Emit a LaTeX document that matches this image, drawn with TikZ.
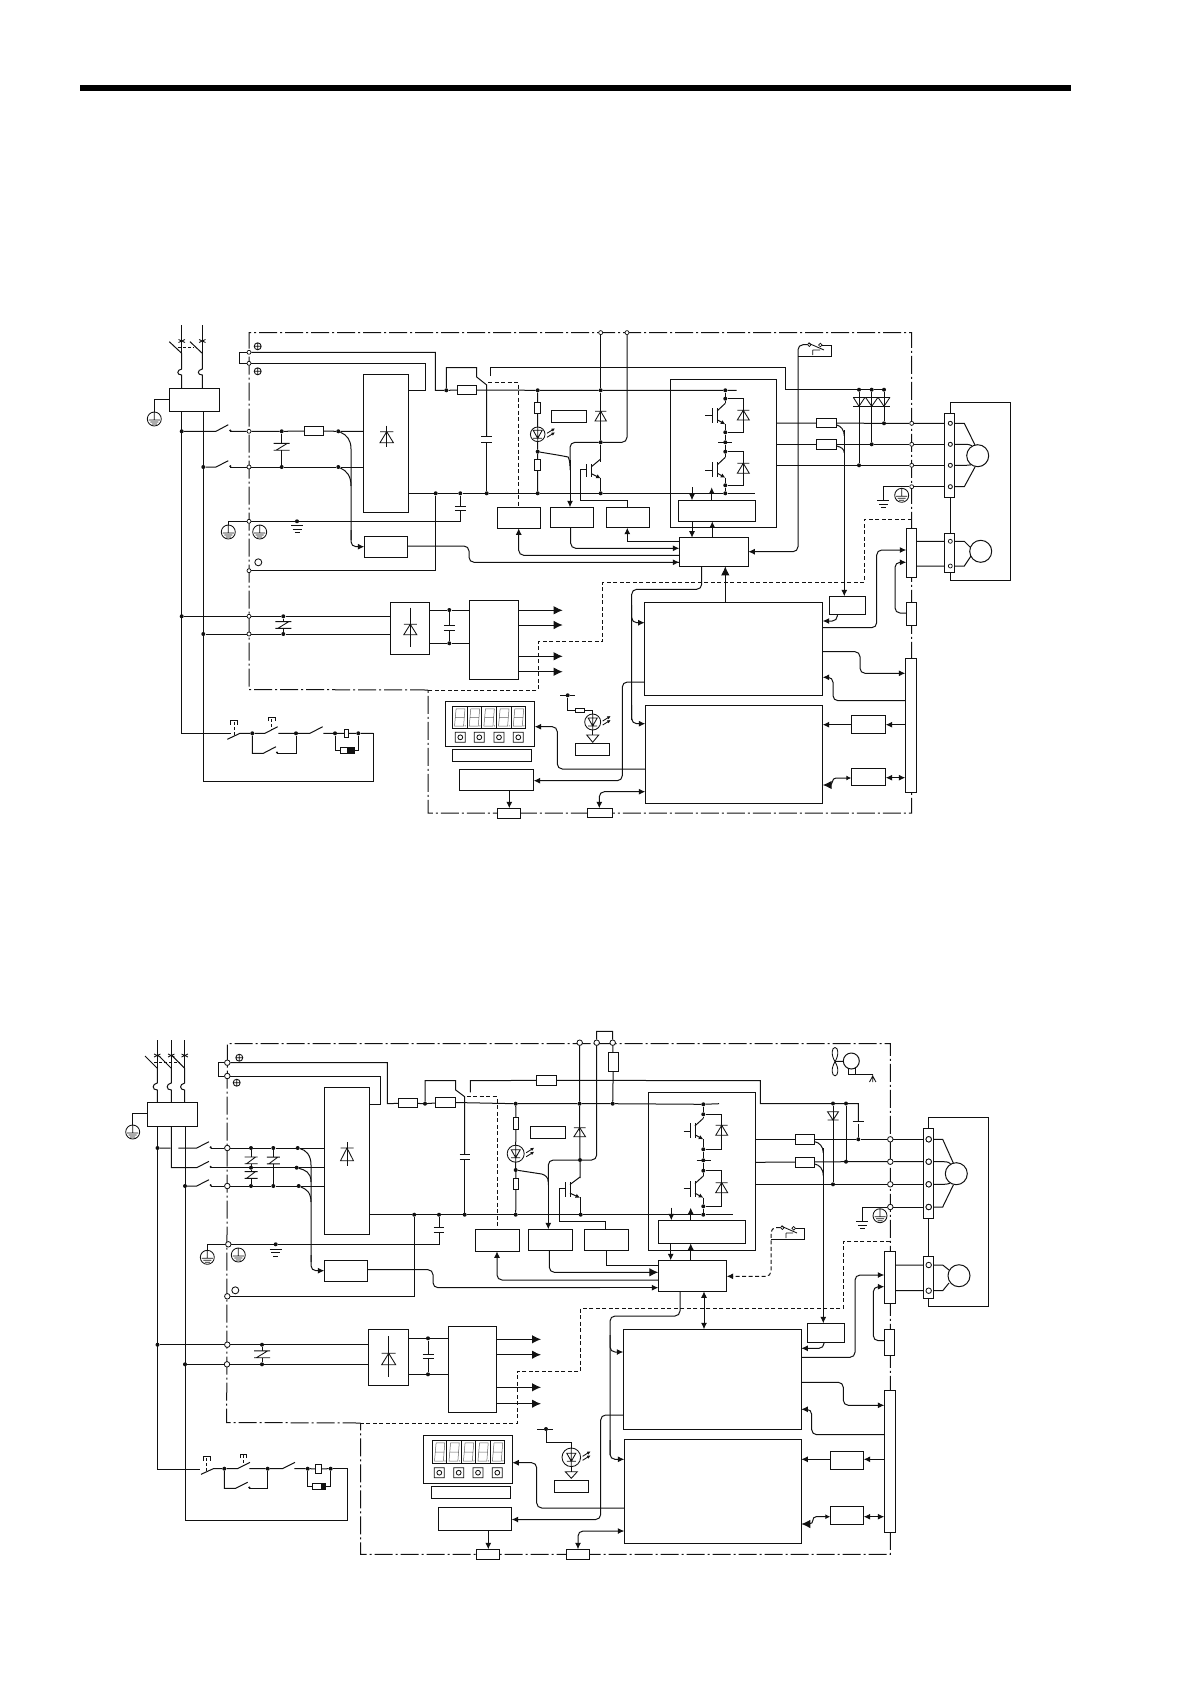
\documentclass[tikz,border=0pt]{standalone}
\usetikzlibrary{arrows.meta}
\definecolor{ink}{HTML}{111111}
\pgfdeclarelayer{fg}
\pgfsetlayers{main,fg}
\tikzset{
  w/.style={draw=ink,line width=1pt},
  rc/.style={w,rounded corners=5pt},
  sym/.style={draw=ink,line width=.85pt},
  ar/.style={-{Latex[length=6.5pt,width=6pt]}},
  arb/.style={-{Latex[length=9pt,width=8.5pt]}},
  arr/.style={{Latex[length=6.5pt,width=6pt]}-{Latex[length=6.5pt,width=6pt]}},
  box/.style={draw=ink,line width=1pt,fill=white,inner sep=0pt,outer sep=0pt,rectangle},
  frm/.style={draw=ink,line width=1pt,inner sep=0pt,outer sep=0pt,rectangle},
  jn/.style={circle,fill=ink,inner sep=0pt,minimum size=4pt},
  tm/.style={circle,draw=ink,fill=white,line width=.7pt,inner sep=0pt,minimum size=4pt},
  tmb/.style={circle,draw=ink,fill=white,line width=.8pt,inner sep=0pt,minimum size=5.5pt},
  mot/.style={circle,draw=ink,fill=white,line width=1pt,inner sep=0pt},
  dd/.style={draw=ink,line width=1pt,dash pattern=on 18pt off 3pt on 2pt off 3pt},
  dsh/.style={draw=ink,line width=1pt,dash pattern=on 4pt off 2.5pt},
}
\def\myBox#1#2#3#4#5{\pgfmathsetmacro\wA{#4-#2}\pgfmathsetmacro\hA{#5-#3}\node[box,anchor=north west,minimum width=\wA pt,minimum height=\hA pt] (#1) at (#2,#3) {};}
\def\myFrm#1#2#3#4#5{\pgfmathsetmacro\wA{#4-#2}\pgfmathsetmacro\hA{#5-#3}\node[frm,anchor=north west,minimum width=\wA pt,minimum height=\hA pt] (#1) at (#2,#3) {};}
\def\myJ#1#2#3{\node[jn] (#1) at (#2,#3) {};}
\def\myT#1#2#3{\node[tm] (#1) at (#2,#3) {};}
\def\myTb#1#2#3{\node[tmb] (#1) at (#2,#3) {};}
\def\myGnd#1#2{\draw[sym] ({#1-6},#2)--({#1+6},#2) ({#1-4.5},{#2+3.5})--({#1+4.5},{#2+3.5}) ({#1-2.5},{#2+7})--({#1+2.5},{#2+7});}
\def\myPE#1#2{\draw[sym] (#1,#2) circle (7pt) (#1,{#2-7})--(#1,{#2+1}) ({#1-5.5},{#2+1})--({#1+5.5},{#2+1}) ({#1-4},{#2+3})--({#1+4},{#2+3}) ({#1-2.5},{#2+5})--({#1+2.5},{#2+5});}
\def\myPlus#1#2{\draw[sym] (#1,#2) circle (3.5pt) ({#1-3.5},#2)--({#1+3.5},#2) (#1,{#2-3.5})--(#1,{#2+3.5});}
\def\myZ#1#2#3{\draw[sym] ({#1-#3},{#2-3.4})--({#1+#3},{#2-3.4}) ({#1-#3},{#2+3.4})--({#1+#3},{#2+3.4}) ({#1+#3*.7},{#2-3.4})--({#1-#3*.7},{#2+3.4});}
\def\myDU#1#2#3#4{\draw[sym] ({#1-#4},#2)--({#1+#4},#2) (#1,#2)--({#1-#4},#3)--({#1+#4},#3)--cycle;}
\def\myCap#1#2#3#4{\draw[w] ({#1-#4},#2)--({#1+#4},#2) ({#1-#4},#3)--({#1+#4},#3);}
\def\myQ#1#2#3#4{\draw[w] (#2,#3)--(#2,#4) ({#2-5},#3)--({#2-5},#4);
 \draw[w] (#1,{#3-5})--(#2,{#3+2.5});
 \draw[w,-{Latex[length=4.5pt,width=4.5pt]}] (#2,{#4-3.5})--(#1,{#4+1});}
\def\myLED#1#2#3{\draw[sym] (#1,#2) circle (#3pt);
 \draw[sym] ({#1-4.5},{#2-4})--({#1+4.5},{#2-4})--(#1,{#2+4})--cycle ({#1-4.5},{#2+4})--({#1+4.5},{#2+4}) (#1,{#2-#3})--(#1,{#2+#3});
 \draw[sym,-{Latex[length=3.5pt,width=3.5pt]}] ({#1+#3+2},{#2-1})--({#1+#3+10},{#2-6});
 \draw[sym,-{Latex[length=3.5pt,width=3.5pt]}] ({#1+#3+2},{#2+3})--({#1+#3+10},{#2-2});}
\def\myDig#1#2#3#4{\foreach \i in {0,...,4}{
  \pgfmathsetmacro\xa{#1+\i*(#3-#1)/5}\pgfmathsetmacro\dx{(#3-#1)/5}
  \draw[sym] (\xa,#2) rectangle ({\xa+\dx},#4);
  \draw[draw=ink!65,line width=.5pt] ({\xa+2.2},{#4-2.5})--({\xa+3.8},{#2+2.5})--({\xa+\dx-2},{#2+2.5})--({\xa+\dx-3.4},{#4-2.5})--cycle ({\xa+3},{(#2+#4)/2})--({\xa+\dx-2.7},{(#2+#4)/2});
  \fill[ink!65] ({\xa+\dx-1.8},{#4-2.8}) circle (.6pt);}}
\def\myBtn#1#2{\draw[sym] ({#1-5},{#2-5}) rectangle ({#1+5},{#2+5}) (#1,#2) circle (2.4pt);}
\begin{document}
\begin{tikzpicture}[x=1pt,y=-1pt]
\useasboundingbox (0,0) rectangle (1190,1684);
\fill[black] (80,85) rectangle (1071,91);

%%%%%%%%%%%%%%%%%%%%%%%%%%%%%% upper diagram
\draw[dd] (428,690)--(249,689.5)--(249,332.5)--(911.7,332.5)--(911.7,813)--(428,813)--cycle;
\draw[dsh] (911.7,519.3) -| (864.3,582.3) -| (602.7,641.7) -| (538.3,690) -- (428,690);

\begin{pgfonlayer}{fg}
\myBox{aflt}{169.3}{388.3}{219.3}{411.3}
\myBox{afuse}{304.3}{426.7}{323.7}{435.3}
\myBox{arect}{363.3}{374.3}{408.3}{512.3}
\myBox{adet}{364.3}{536.3}{407.7}{557.7}
\myBox{arch}{457.3}{385.3}{476.7}{394.7}
\myBox{ar1}{534.3}{402.7}{540.7}{413.7}
\myBox{ar2}{534.3}{459.3}{540.7}{470.7}
\myBox{alab}{551.7}{410.3}{586.3}{422.3}
\myBox{abx1}{497.3}{507.3}{540.3}{528.3}
\myBox{abx2}{550.3}{507.3}{593.3}{527.7}
\myBox{abx3}{606.3}{507.3}{649.3}{527.7}
\myFrm{ainv}{670.7}{379.7}{776.3}{527.3}
\myBox{adrv}{678.3}{500.3}{755.7}{521.3}
\myBox{actl}{679.3}{537.7}{748.3}{566.3}
\myBox{act1}{816.3}{418.3}{836.7}{427.7}
\myBox{act2}{816.3}{439.3}{836.7}{449.3}
\myBox{acn2}{906.3}{528.3}{916.7}{577.3}
\myBox{acn3}{906.3}{602.3}{916.7}{625.3}
\myBox{acn1}{905.3}{658.3}{916.7}{792.3}
\myBox{adyn}{829.3}{596.3}{865.3}{614.3}
\myBox{acpu}{644.7}{602.3}{822.7}{695.3}
\myBox{acpb}{645.3}{705.3}{822.7}{803.3}
\myBox{ai1}{851.3}{715.3}{885.7}{733.7}
\myBox{ai2}{851.3}{768.3}{885.7}{785.7}
\myBox{adisp}{445.3}{701.3}{534.7}{746.3}
\myBox{albl}{452.3}{749.3}{531.7}{761.3}
\myBox{amem}{459.3}{769.3}{533.7}{790.7}
\myBox{ap1}{497.3}{808.3}{520.7}{818.7}
\myBox{ap2}{587.3}{808.3}{612.7}{817.7}
\myBox{ares}{575.3}{708.3}{584.7}{712.3}
\myBox{albt}{575.3}{743.3}{609.7}{755.7}
\myBox{arec}{390.3}{602.3}{429.3}{654.3}
\myBox{apsu}{469.3}{600.3}{518.3}{679.7}
\myBox{amc}{344.3}{729.3}{348.3}{737.7}
\myBox{asur}{340.3}{747}{354}{753.7}
\myFrm{amfr}{950.3}{402.3}{1010.3}{580.3}
\myBox{atb1}{944.3}{413.3}{954.7}{497.3}
\myBox{atb2}{944.3}{533.3}{954.7}{572.7}
\node[mot,minimum size=22pt] (amot) at (977.7,455.7) {};
\node[mot,minimum size=22pt] (aenc) at (980.7,551.3) {};
\draw[w] (386.7,425.7)--(386.7,447.3);
\myDU{386.7}{431.7}{442.7}{6.7}
\draw[w] (410.3,607.7)--(410.3,646.7);
\myDU{410.3}{624.3}{634.7}{6.5}
\myT{aP}{249}{352.3}\myT{aQ}{249}{363.3}\myT{aL1}{249}{431.3}\myT{aL2}{249}{467}
\myT{aE}{249}{521.3}\myT{aO}{249}{570.7}\myT{aL3}{249}{616.3}\myT{aL4}{249}{634}
\myT{aC}{600.7}{332.6}\myT{aD}{627}{332.6}
\myT{aU}{911.7}{423.3}\myT{aV}{911.7}{444.3}\myT{aW}{911.7}{465.3}\myT{aG}{911.7}{486.7}
\myT{abU}{950.3}{423.3}\myT{abV}{950.3}{444.3}\myT{abW}{950.3}{465.3}\myT{abG}{950.3}{486.7}
\myT{aeA}{950.3}{541.3}\myT{aeB}{950.3}{566}
\myJ{aj1}{181.7}{431.3}\myJ{aj2}{203.3}{467}\myJ{aj3}{281.7}{431.3}\myJ{aj4}{281.7}{467}
\myJ{aj5}{338.3}{431.3}\myJ{aj6}{338.3}{467}\myJ{aj7}{446.3}{390.3}\myJ{aj8}{435.7}{493.3}
\myJ{aj9}{460.3}{493.3}\myJ{aj10}{486.7}{493.3}\myJ{aj11}{537.7}{390.3}\myJ{aj12}{537.7}{451.7}
\myJ{aj13}{537.7}{493.3}\myJ{aj14}{600.7}{390.3}\myJ{aj15}{600.7}{442.3}\myJ{aj16}{600.7}{493.3}
\myJ{aj17}{725.3}{390.3}\myJ{aj18}{725.3}{398.7}\myJ{aj19}{725.3}{432.3}\myJ{aj20}{725.3}{442.3}
\myJ{aj21}{725.3}{451.7}\myJ{aj22}{725.3}{485.3}\myJ{aj23}{725.3}{493.3}
\myJ{aj24}{859}{389.7}\myJ{aj25}{871.7}{389.7}\myJ{aj26}{884}{389.7}
\myJ{aj27}{884}{423.3}\myJ{aj28}{871.7}{444.3}\myJ{aj29}{859}{465.3}
\myJ{aj30}{297}{521.3}\myJ{aj31}{181.7}{616.3}\myJ{aj32}{203.3}{634}\myJ{aj33}{283.3}{616.3}\myJ{aj34}{283.3}{634}
\myJ{aj35}{449.3}{610}\myJ{aj36}{449.3}{643.3}
\myJ{aj37}{252.3}{733.3}\myJ{aj38}{296}{733.3}\myJ{aj39}{335}{733.3}\myJ{aj40}{358.3}{733.3}\myJ{aj41}{567.7}{695.3}
\end{pgfonlayer}

% mains and breakers
\draw[w] (181.7,325)--(181.7,353.3) (202.3,325)--(202.3,353.3);
\draw[sym] (178.5,339.5)--(185,342.5) (185,339.5)--(178.5,342.5) (199,339.5)--(205.5,342.5) (205.5,339.5)--(199,342.5);
\draw[w] (169.3,341.7)--(181.7,353.3)--(181.7,369) .. controls (176.5,370) and (176.5,375) .. (181.7,375)--(aflt.north -| 181.7,0);
\draw[w] (190,341.7)--(202.3,353.3)--(202.3,369) .. controls (197,370) and (197,375) .. (202.3,375)--(aflt.north -| 202.3,0);
\draw[w,densely dashed] (178.3,347.3)--(194,347.3);
\draw[w] (aflt.west |- 0,399.3) -| (154.3,412);
\myPE{154.3}{419}
\draw[w] (aflt.south -| 181.7,0)--(181.7,733.3)--(230.7,733.3);
\draw[w] (aflt.south -| 203.3,0)--(203.3,781.3) -| (373.3,733.3)--(aj40);
% input contactors
\draw[w] (aj1)--(216,431.3)--(228.3,424.7);
\draw[w] (aj2)--(216,467)--(228.3,460.7);
\fill[ink] (230.3,430.5) circle (1.2pt) (230.3,466.2) circle (1.2pt);
\draw[w] (230,431.3)--(aL1)--(aj3)--(afuse)--(aj5)--(arect.west |- aj5);
\draw[w] (230,467)--(aL2)--(aj4)--(aj6)--(arect.west |- aj6);
\draw[w] (aj3)--(281.7,443.3) (aj4)--(281.7,450.3);
\myZ{281.7}{446.8}{8}
% P terminals
\draw[w] (aP)--(239.3,352.3)--(239.3,363.3)--(aQ);
\draw[w] (aP) -| (435.3,390.3)--(aj7)--(arch)--(aj11)--(aj14)--(aj17)--(736.7,390.3);
\draw[w] (aQ) -| (425.7,390.3)--(arect.east |- 0,390.3);
\myPlus{257.7}{346.3}\myPlus{257.7}{371.3}
\draw[w] (aj7)--(446.3,367.7)--(476.7,367.7)--(476.7,377)--(486.7,385)--(486.7,436.7);
\draw[w] (486.7,442.3)--(aj10);
\myCap{486.7}{436.7}{442.3}{5.5}
\draw[w] (490.7,376)--(490.7,367.5) -| (785,389.7)--(aj24)--(aj25)--(aj26);
\draw[dsh] (488,382.7) -| (abx1.north -| 518.7,0);
% lower bus
\draw[w] (arect.east |- aj8)--(aj8)--(aj9)--(aj10)--(aj13)--(aj16)--(aj23)--(755,493.3);
\draw[w] (aj9)--(460.3,506);
\myCap{460.3}{506}{510.7}{5.5}
\draw[w] (460.3,510.7)--(460.3,521.3)--(aj30)--(aE)-|(228.3,525);
\myGnd{297}{525.5}\myPE{228.3}{532}\myPE{259.7}{532}
\draw[sym] (258.3,562.3) circle (3.5pt);
\draw[w] (aj8)--(435.7,570.7)--(aO);
% current detection taps
\draw[w] (aj5) .. controls (347,435) and (351,440) .. (351,449)--(351,540);
\draw[w] (aj6) .. controls (347,471) and (351,476) .. (351,486);
\draw[rc,ar] (351,530)--(351,546.7)--(adet.west |- 0,546.7);
\draw[rc] (adet.east |- 0,546)--(469,546)--(469,562.3)--(679,562.3);
\draw[w,ar] (500,562.3)--(actl.west |- 0,562.3);
\draw[rc,ar] (actl.west |- 0,555.3)--(518.7,555.3)--(abx1.south -| 518.7,0);
% charge lamp
\draw[w] (aj11)--(ar1)--(537.7,427);
\draw[w] (537.7,441.5)--(aj12)--(ar2)--(aj13);
\myLED{537.7}{434.3}{7.3}
\draw[rc] (aj12)--(563.3,456) .. controls (568,457) and (570,460) .. (570,466);
\draw[w,ar] (570,460)--(abx2.north -| 570,0);
\draw[rc] (570,470)--(570,442.3)--(aj15)--(627,442.3)--(aD);
\draw[w] (aC)--(aj14)--(aj15)--(600.7,462.3);
\myDU{600.7}{411.3}{421}{5.7}
\myQ{600.7}{591.7}{464}{477.3}
\draw[w] (600.7,478)--(aj16);
\draw[w] (586.7,469.3)--(580.7,469.3)--(580.7,500.7)--(627.7,500.7)--(abx3.north -| 627.7,0);
% inverter
\draw[w] (aj17)--(aj18)--(725.3,403);
\draw[w] (aj18)--(743.3,398.7)--(743.3,432.3)--(aj19);
\myDU{743.3}{410.3}{420}{6}
\myQ{725.3}{717.3}{408.3}{423.3}
\draw[w] (705,415.7)--(712.3,415.7);
\draw[w] (725.3,424)--(aj19)--(aj20)--(aj21)--(725.3,457);
\draw[w] (718.3,442.3)--(731.7,442.3);
\draw[w] (aj21)--(743.3,451.7)--(743.3,485.3)--(aj22);
\myDU{743.3}{463.3}{473.3}{6}
\myQ{725.3}{717.3}{462.3}{476.7}
\draw[w] (705,470)--(712.3,470);
\draw[w] (725.3,477.5)--(aj22)--(aj23);
\draw[w,ar] (692,487.3)--(adrv.north -| 692,0);
\draw[w,ar] (adrv.north -| 711.7,0)--(711.7,487.3);
\draw[w,ar] (adrv.south -| 692,0)--(actl.north -| 692,0);
\draw[w,ar] (actl.north -| 712.3,0)--(adrv.south -| 712.3,0);
\draw[w,ar] (627.3,541.7)--(abx3.south -| 627.3,0);
\draw[w] (627.3,541.7)--(actl.west |- 0,541.7);
\draw[rc,ar] (abx2.south -| 570.7,0)--(570.7,548.3)--(actl.west |- 0,548.3);
% outputs
\draw[w] (ainv.east |- act1)--(aj27)--(aU)--(abU);
\draw[w] (ainv.east |- act2)--(aj28)--(aV)--(abV);
\draw[w] (ainv.east |- aj29)--(aj29)--(aW)--(abW);
\draw[w] (aG)--(abG);
\draw[w] (aj24)--(aj29) (aj25)--(aj28) (aj26)--(aj27);
\draw[sym] (853.3,397.3)--(890,397.3);
\draw[sym] (853.3,397.3)--(859,406.3)--(865,397.3) (865.5,397.3)--(871.7,406.3)--(878,397.3) (878,397.3)--(884,406.3)--(890,397.3);
\draw[sym] (853.3,406.3)--(890,406.3);
\draw[w] (aG)-|(883.3,500);
\myGnd{883.3}{500.5}\myPE{901.7}{495.3}
% motor
\draw[w] (abU)--(964.3,423.3)--(975,445);
\draw[w] (abV)--(966,444.3) .. controls (970,444.3) and (972,446) .. (amot);
\draw[w] (abW)--(966,465.3) .. controls (970,465.3) and (972,464) .. (amot);
\draw[w] (abG)--(964.3,486.7)--(975,467);
\draw[w] (acn2.east |- aeA)--(aeA)--(964.3,541.3)--(971,548);
\draw[w] (acn2.east |- aeB)--(aeB)--(964.3,566)--(971,556);
% CT taps
\draw[w] (836.7,425) .. controls (841,426) and (844.3,430) .. (844.3,436);
\draw[w] (836.7,446) .. controls (841,447) and (844.3,449) .. (844.3,453);
\draw[w,ar] (844.3,430)--(adyn.north -| 844.3,0);
\draw[rc,ar] (adyn.south -| 837.3,0)--(837.3,621)--(acpu.east |- 0,621);
\draw[rc,ar] (acpu.east |- 0,627.7)--(876.7,627.7)--(876.7,550)--(acn2.west |- 0,550);
\draw[rc,ar] (acn3.west |- 0,613)--(895,613)--(895,562.3)--(acn2.west |- 0,562.3);
% thermal switch
\node[tm,minimum size=3.6pt] (ath1) at (809.3,344.7) {};
\node[tm,minimum size=3.6pt] (ath2) at (820.3,345) {};
\draw[w] (ath2)--(831.7,345)--(831.7,356.3)--(798,356.3);
\draw[sym] (808,343)--(824,350) (812.7,350)--(812.7,355) (812.7,350)--(820,350);
\draw[rc,ar] (ath1)--(798,344.7)--(798,551.7)--(actl.east |- 0,551.7);
% control to cpu
\draw[w,arb] (acpu.north -| 725.3,0)--(actl.south -| 725.3,0);
\draw[rc] (actl.south -| 701.7,0)--(701.7,589.3)--(631.7,589.3)--(631.7,720);
\draw[rc,ar] (631.7,605)--(631.7,622.7)--(acpu.west |- 0,622.7);
\draw[rc,ar] (631.7,705)--(631.7,723.7)--(acpb.west |- 0,723.7);
\draw[rc,ar] (acpu.west |- 0,682)--(622.3,682)--(622.3,780.7)--(amem.east |- 0,780.7);
\draw[rc,ar] (acpb.west |- 0,769)--(557.3,769)--(557.3,726.7)--(adisp.east |- 0,726.7);
\draw[w,ar] (amem.south -| 509.3,0)--(ap1.north -| 509.3,0);
\draw[rc,arr] (ap2.north -| 599.3,0)--(599.3,791.7)--(acpb.west |- 0,791.7);
% right side of cpu
\draw[rc,ar] (acpu.east |- 0,651.7)--(860,651.7)--(860,673.3)--(acn1.west |- 0,673.3);
\draw[rc,ar] (acn1.west |- 0,700.7)--(833,700.7)--(833,677.3)--(acpu.east |- 0,677.3);
\draw[w,ar] (acn1.west |- 0,724.7)--(ai1.east |- 0,724.7);
\draw[w,ar] (ai1.west |- 0,724.7)--(acpb.east |- 0,724.7);
\draw[w,arr] (ai2.east |- 0,777.7)--(acn1.west |- 0,777.7);
\draw[w,{Latex[length=5pt,width=5pt]}-{Latex[length=9pt,width=8.5pt]}] (ai2.west |- 0,778)--(836,778) .. controls (831,778) and (834,785) .. (829,785)--(acpb.east |- 0,785);
% low voltage supply
\draw[w] (aj31)--(aL3)--(aj33)--(arec.west |- aj33);
\draw[w] (aj32)--(aL4)--(aj34)--(arec.west |- aj34);
\draw[w] (aj33)--(283.3,621.5) (aj34)--(283.3,628.5);
\myZ{283.3}{625}{8}
\draw[w] (arec.east |- aj35)--(aj35)--(apsu.west |- aj35);
\draw[w] (arec.east |- aj36)--(aj36)--(apsu.west |- aj36);
\draw[w] (aj35)--(449.3,625.3) (aj36)--(449.3,630);
\myCap{449.3}{625.3}{630}{5.5}
\draw[w,arb] (apsu.east |- 0,610.3)--(562.7,610.3);
\draw[w,arb] (apsu.east |- 0,625)--(562.7,625);
\draw[w,arb] (apsu.east |- 0,656.3)--(562.7,656.3);
\draw[w,arb] (apsu.east |- 0,671.7)--(562.7,671.7);
% emergency stop circuit
\draw[w] (227.3,739.3)--(240,733.3)--(aj37)--(265,733.3)--(277.7,726.7);
\draw[w,densely dashed] (234,722)--(234,736.5);
\draw[sym] (230.3,724.5)--(230.3,720.7)--(237.7,720.7)--(237.7,724.5);
\draw[w,densely dashed] (271.7,719)--(271.7,730);
\draw[sym] (268,721)--(268,717.3)--(275.4,717.3)--(275.4,721);
\draw[w] (278.3,733.3)--(aj38)--(310,733.3)--(322.7,726.7);
\draw[w] (323.3,733.3)--(aj39)--(amc)--(aj40)--(373.3,733.3);
\draw[w] (aj37)--(252.3,753.3)--(263.3,753.3)--(276,746.7);
\fill[ink] (277,752.5) circle (1.2pt);
\draw[w] (277,753.3)--(296,753.3)--(aj38);
\draw[w] (aj39)--(335,750.3)--(asur.west |- 0,750.3);
\draw[w] (aj40)--(358.3,750.3)--(asur.east |- 0,750.3);
\begin{pgfonlayer}{fg}
\fill[ink] (347,747) rectangle (354,753.7);
\myDig{452.3}{706.3}{525.7}{728.7}
\myBtn{460.3}{737.3}\myBtn{479.3}{737.3}\myBtn{499}{737.3}\myBtn{518.3}{737.3}
\foreach \yy in {423.3,444.3,465.3,486.7}{\node[tm] at (950.3,\yy) {};}
\end{pgfonlayer}
% LED lower
\draw[w] (560,695.3)--(aj41)--(575,695.3);
\draw[w] (aj41)--(567.7,710.3)--(ares)--(592.7,710.3)--(592.7,714);
\myLED{592.7}{722}{8}
\draw[w] (592.7,730)--(592.7,735);
\draw[sym] (586.7,735)--(598.7,735)--(592.7,742.3)--cycle;

%%%%%%%%%%%%%%%%%%%%%%%%%%%%%% lower diagram
\draw[dd] (360.7,1423)--(226.7,1422.5)--(227.3,1043.7)--(890.3,1043.7)--(890.3,1554.3)--(360.7,1554.3)--cycle;
\draw[dsh] (890.3,1241.3) -| (843.3,1308.3) -| (580.7,1371.3) -| (517.3,1423) -- (360.7,1423);

\begin{pgfonlayer}{fg}
\myBox{bflt}{147.3}{1102.3}{197.3}{1126.3}
\myBox{brect}{324.3}{1087.3}{369.3}{1234.3}
\myBox{bdet}{324.3}{1260.3}{367.7}{1281.7}
\myBox{bfuse}{398.3}{1098.7}{417.3}{1107.3}
\myBox{brch}{435.3}{1097.3}{455.3}{1107.3}
\myBox{bry}{536.3}{1075.3}{556.7}{1085.3}
\myBox{brb}{608.3}{1052.3}{618.3}{1071.7}
\myBox{br1}{513.7}{1117.3}{518.3}{1129.3}
\myBox{br2}{513.7}{1178.7}{518.3}{1189.3}
\myBox{blab}{530.3}{1126.3}{565.7}{1138.7}
\myBox{bbx1}{475.3}{1229.3}{519.3}{1251.3}
\myBox{bbx2}{528.3}{1229.3}{572.3}{1250.3}
\myBox{bbx3}{584.3}{1229.3}{628.3}{1250.3}
\myFrm{binv}{648.3}{1092.3}{755.7}{1250.3}
\myBox{bdrv}{658.3}{1220.3}{745.7}{1243.3}
\myBox{bctl}{658.3}{1260.3}{726.7}{1291.3}
\myBox{bct1}{795.3}{1134.3}{814.7}{1144.3}
\myBox{bct2}{795.3}{1157.3}{814.7}{1167.3}
\myBox{bcn2}{884.3}{1251.3}{895.7}{1303.3}
\myBox{bcn3}{884.3}{1329.3}{894.3}{1355.3}
\myBox{bcn1}{884.3}{1390.3}{895.3}{1532.3}
\myBox{bdyn}{807.3}{1323.3}{844.7}{1342.7}
\myBox{bcpu}{623.3}{1329.3}{801.3}{1429.3}
\myBox{bcpb}{624.3}{1439.3}{801.3}{1543.3}
\myBox{bi1}{830.3}{1451.3}{863.7}{1469.7}
\myBox{bi2}{830.3}{1506.3}{863.7}{1524.7}
\myBox{bdisp}{423.3}{1435.3}{512.3}{1483.3}
\myBox{blbl}{431.3}{1486.3}{510.3}{1498.7}
\myBox{bmem}{438.3}{1507.3}{511.7}{1530.3}
\myBox{bp1}{476.3}{1549.3}{499.7}{1559.7}
\myBox{bp2}{566.3}{1549.3}{589.7}{1559.7}
\myBox{blbt}{554.3}{1480.3}{588.3}{1492.3}
\myBox{brec}{368.3}{1329.3}{408.7}{1385.3}
\myBox{bpsu}{448.3}{1326.3}{496.7}{1412.3}
\myBox{bmc}{315.3}{1464.3}{321.7}{1473.3}
\myBox{bsur}{312.3}{1483.3}{325}{1489.7}
\myFrm{bmfr}{928.7}{1117.3}{988.7}{1306.3}
\myBox{btb1}{923.3}{1128.3}{933.3}{1218.3}
\myBox{btb2}{923.3}{1256.3}{933.3}{1298.3}
\node[mot,minimum size=22pt] (bmot) at (956.3,1173.7) {};
\node[mot,minimum size=22pt] (benc) at (959,1275.7) {};
\draw[w] (347,1142.3)--(347,1165.7);
\myDU{347}{1148}{1160.7}{6.5}
\draw[w] (388.7,1336)--(388.7,1377.3);
\myDU{388.7}{1353.3}{1364.7}{7}
\myTb{bP}{227.3}{1062.7}\myTb{bQ}{227.3}{1076}\myTb{bL1}{227.3}{1148}\myTb{bL3}{227.3}{1186}
\myTb{bE}{228.3}{1244.3}\myTb{bO}{227.3}{1296.3}\myTb{bL4}{227.3}{1344.7}\myTb{bL5}{227}{1364.3}
\myTb{bC}{579.7}{1042.7}\myTb{bD}{596.7}{1042.7}\myTb{bB}{612.7}{1042.7}
\myTb{bU}{890.3}{1139.3}\myTb{bV}{890.3}{1161.7}\myTb{bW}{890.3}{1184.3}\myTb{bG}{890.3}{1207}
\myTb{bbU}{928.7}{1139.3}\myTb{bbV}{928.7}{1161.7}\myTb{bbW}{928.7}{1184.3}\myTb{bbG}{928.7}{1207}
\myTb{beA}{928.7}{1265}\myTb{beB}{928.7}{1290.7}
\myJ{bj1}{157.5}{1148}\myJ{bj2}{185}{1186}
\myJ{bj3}{251}{1148}\myJ{bj4}{251}{1167.7}\myJ{bj5}{251}{1186}\myJ{bj6}{273.3}{1148}\myJ{bj7}{273.3}{1186}
\myJ{bj8}{297.7}{1148}\myJ{bj9}{296.7}{1167.7}\myJ{bj10}{298.7}{1186}
\myJ{bj11}{425}{1103.7}\myJ{bj12}{414.2}{1214.7}\myJ{bj13}{439}{1214.7}\myJ{bj14}{464.7}{1214.7}
\myJ{bj15}{515.7}{1103.7}\myJ{bj16}{515.7}{1170}\myJ{bj17}{515.7}{1214.7}
\myJ{bj18}{579.5}{1103.7}\myJ{bj19}{580}{1160}\myJ{bj20}{580.7}{1214.7}\myJ{bj21}{612.7}{1103.7}
\myJ{bj22}{703.3}{1104.3}\myJ{bj23}{703.3}{1114.3}\myJ{bj24}{703.3}{1149.3}\myJ{bj25}{703.3}{1160.3}
\myJ{bj26}{703.3}{1170.7}\myJ{bj27}{703.3}{1206.3}\myJ{bj28}{703.3}{1214.7}
\myJ{bj29}{833}{1103.5}\myJ{bj30}{846}{1103.5}\myJ{bj31}{858.3}{1139.3}\myJ{bj32}{846}{1161.7}\myJ{bj33}{833}{1184.3}
\myJ{bj34}{275.7}{1244.3}\myJ{bj35}{157.5}{1344.7}\myJ{bj36}{185}{1364.3}\myJ{bj37}{262}{1344.7}\myJ{bj38}{262}{1364.3}
\myJ{bj39}{428}{1338.3}\myJ{bj40}{428}{1374.3}
\myJ{bj41}{224.3}{1468.7}\myJ{bj42}{267.7}{1468.7}\myJ{bj43}{307.7}{1468.7}\myJ{bj44}{330.7}{1468.7}\myJ{bj45}{546}{1429}
\end{pgfonlayer}

% mains and breakers
\draw[w] (157.3,1040)--(157.3,1068.3) (171.3,1040)--(171.3,1068.3) (184.7,1040)--(184.7,1068.3);
\foreach \xx in {157.3,171.3,184.7}{\draw[sym] ({\xx-3.2},1054)--({\xx+3.2},1057) ({\xx+3.2},1054)--({\xx-3.2},1057);}
\foreach \xx in {157.3,171.3,184.7}{\draw[w] ({\xx-12.3},1056)--(\xx,1068.3)--(\xx,1083) .. controls ({\xx-5.5},1084) and ({\xx-5.5},1090) .. (\xx,1090)--(bflt.north -| \xx,0);}
\draw[w,densely dashed] (154.3,1062.3)--(180,1062.3);
\draw[w] (bflt.west |- 0,1113.3) -| (132.7,1125);
\myPE{132.7}{1132}
\draw[w] (bflt.south -| 157.5,0)--(157.5,1469.3)--(200,1469.3);
\draw[w] (bflt.south -| 185,0)--(185,1520.3) -| (347.3,1468.7)--(bj44);
\draw[w] (bflt.south -| 171.3,0)--(171.3,1167.7)--(196.7,1167.7)--(209,1161.3);
\draw[w] (bj1)--(170.7,1148) (178.3,1148)--(196.7,1148)--(209,1141.7);
\draw[w] (bj2)--(196.7,1186)--(209,1179.7);
\fill[ink] (210.7,1147.3) circle (1.2pt) (210.7,1166.9) circle (1.2pt) (210.7,1185.2) circle (1.2pt);
\draw[w] (210.7,1148)--(bL1)--(bj3)--(bj6)--(bj8)--(brect.west |- bj8);
\draw[w] (210.7,1167.7)--(bj4)--(bj9)--(brect.west |- bj9);
\draw[w] (210.7,1186)--(bL3)--(bj5)--(bj7)--(bj10)--(brect.west |- bj10);
\draw[w] (bj3)--(251,1157) (bj4)--(251,1163.7) (bj4)--(251,1171.7) (bj5)--(251,1178.3);
\myZ{251}{1160.4}{6.5}\myZ{251}{1175}{6.5}
\draw[w] (bj6)--(273.3,1157.3) (bj7)--(273.3,1163.7);
\myZ{273.3}{1160.5}{6.5}
% P terminals
\draw[w] (bP)--(218.3,1062.7)--(218.3,1076)--(bQ);
\draw[w] (bP) -| (387.3,1103.7)--(bfuse)--(bj11)--(brch)--(bj15)--(bj18)--(bj21)--(bj22)--(719,1103.7);
\draw[w] (bQ) -| (380.3,1104.3)--(brect.east |- 0,1104.3);
\myPlus{239.3}{1057.7}\myPlus{236.7}{1082.7}
\draw[w] (bj11)--(425,1080.7)--(455.7,1080.7)--(455.7,1090)--(464.7,1096.7)--(464.7,1154.3);
\draw[w] (464.7,1159)--(bj14);
\myCap{464.7}{1154.3}{1159}{5.2}
\draw[w] (470.3,1092.3)--(470.3,1080.7)--(bry)--(760.3,1080.7)--(760.3,1103.5)--(bj29)--(bj30)--(858.3,1103.5)--(858.3,1121);
\draw[sym] (852.7,1121)--(864,1121);
\draw[w] (858.3,1124)--(bj31);
\draw[dsh] (466.7,1096.7) -| (bbx1.north -| 497,0);
% lower bus
\draw[w] (brect.east |- bj12)--(bj12)--(bj13)--(bj14)--(bj17)--(bj20)--(bj28)--(732.7,1214.7);
\draw[w] (bj13)--(439,1227.3);
\myCap{439}{1227.3}{1232}{5.3}
\draw[w] (439,1232)--(439,1244.3)--(bj34)--(bE)-|(207.3,1250.3);
\myGnd{275.7}{1249}\myPE{207.3}{1257.3}\myPE{238.3}{1255}
\draw[sym] (235.3,1290.3) circle (3.5pt);
\draw[w] (bj12)--(414.2,1296.3)--(bO);
% current detection
\draw[w] (bj8) .. controls (306,1150) and (311,1155) .. (311,1165)--(311,1262);
\draw[w] (bj9) .. controls (305,1170) and (311,1172) .. (311,1182);
\draw[w] (bj10) .. controls (306,1189) and (311,1192) .. (311,1202);
\draw[rc,ar] (311,1255)--(311,1270.7)--(bdet.west |- 0,1270.7);
\draw[rc] (bdet.east |- 0,1269.7)--(433,1269.7)--(433,1287.7)--(600,1287.7);
\draw[w,ar] (500,1287.7)--(bctl.west |- 0,1287.7);
\draw[rc,ar] (bctl.west |- 0,1280)--(497,1280)--(bbx1.south -| 497,0);
% charge lamp
\draw[w] (bj15)--(br1)--(515.7,1145);
\draw[w] (515.7,1162)--(bj16)--(br2)--(bj17);
\myLED{515.7}{1153.7}{8.5}
\draw[w] (bj16)--(541.7,1174) .. controls (545,1175) and (548.3,1177) .. (548.3,1182);
\draw[w,ar] (548.3,1175)--(bbx2.north -| 548.3,0);
\draw[rc] (548.3,1185)--(548.3,1160)--(bj19)--(596.7,1160)--(bD);
\draw[w] (bC)--(bj18)--(bj19)--(580,1178);
\myDU{579.7}{1127.7}{1136.7}{5.8}
\myQ{580}{570}{1182}{1196.7}
\draw[w] (580.7,1197)--(bj20);
\draw[w] (564.5,1188.3)--(559.7,1188.3)--(559.7,1221.3)--(605.7,1221.3)--(bbx3.north -| 605.7,0);
\draw[w] (bD)--(596.7,1031.3)--(612.7,1031.3)--(bB)--(brb)--(bj21);
% inverter
\draw[w] (bj22)--(bj23)--(703.3,1118);
\draw[w] (bj23)--(721.7,1114.3)--(721.7,1149.3)--(bj24);
\myDU{721.7}{1125.3}{1135.3}{6}
\myQ{703.3}{695}{1123.3}{1138.3}
\draw[w] (683.7,1131)--(690,1131);
\draw[w] (703.3,1139)--(bj24)--(bj25)--(bj26)--(703.3,1176);
\draw[w] (696.7,1160.3)--(710.7,1160.3);
\draw[w] (bj26)--(721.7,1170.7)--(721.7,1206.3)--(bj27);
\myDU{721.7}{1182.7}{1192.7}{6}
\myQ{703.3}{695}{1181}{1196.7}
\draw[w] (683.7,1188.3)--(690,1188.3);
\draw[w] (703.3,1197.5)--(bj27)--(bj28);
\draw[w,ar] (671.3,1207.7)--(bdrv.north -| 671.3,0);
\draw[w,ar] (bdrv.north -| 690.7,0)--(690.7,1207.7);
\draw[w,ar] (bdrv.south -| 670.7,0)--(bctl.north -| 670.7,0);
\draw[w,ar] (bctl.north -| 690.7,0)--(bdrv.south -| 690.7,0);
\draw[w] (bbx3.south -| 606.3,0)--(606.3,1265.7)--(bctl.west |- 0,1265.7);
\draw[rc,arb] (bbx2.south -| 549.3,0)--(549.3,1272.3)--(bctl.west |- 0,1272.3);
% outputs
\draw[w] (binv.east |- bct1)--(bj31)--(bU)--(bbU);
\draw[w] (binv.east |- bct2)--(bj32)--(bV)--(bbV);
\draw[w] (binv.east |- bj33)--(bj33)--(bW)--(bbW);
\draw[w] (bG)--(bbG);
\draw[w] (bj29)--(bj33) (bj30)--(bj32);
\draw[sym] (827.5,1111.7)--(838.5,1111.7)--(833,1120)--cycle (827.5,1120)--(838.5,1120);
\draw[w] (bG)-|(862.3,1221);
\myGnd{862.3}{1221.7}\myPE{880}{1215.7}
% motor
\draw[w] (bbU)--(942.7,1139.3)--(953.3,1163);
\draw[w] (bbV)--(944,1161.7) .. controls (948,1161.7) and (950,1163) .. (bmot);
\draw[w] (bbW)--(944,1184.3) .. controls (948,1184.3) and (950,1183) .. (bmot);
\draw[w] (bbG)--(942.7,1207)--(953.3,1185);
\draw[w] (bcn2.east |- beA)--(beA)--(942.7,1265)--(949,1270);
\draw[w] (bcn2.east |- beB)--(beB)--(942.7,1290.7)--(949,1283);
% CT taps
\draw[w] (814.7,1141.7) .. controls (819,1142.5) and (823.3,1146) .. (823.3,1153);
\draw[w] (814.7,1164) .. controls (819,1165) and (823.3,1168) .. (823.3,1176);
\draw[w,ar] (823.3,1148)--(bdyn.north -| 823.3,0);
\draw[rc,ar] (bdyn.south -| 824,0)--(824,1348.3)--(bcpu.east |- 0,1348.3);
\draw[rc,ar] (bcpu.east |- 0,1357.3)--(855,1357.3)--(855,1275)--(bcn2.west |- 0,1275);
\draw[rc,ar] (bcn3.west |- 0,1340.7)--(873.3,1340.7)--(873.3,1286.7)--(bcn2.west |- 0,1286.7);
% thermal switch
\node[tm,minimum size=3.6pt] (bth1) at (782.3,1227.7) {};
\node[tm,minimum size=3.6pt] (bth2) at (793.7,1228.3) {};
\draw[w] (bth2)--(804.7,1228.3)--(804.7,1239.3)--(771,1239.3);
\draw[sym] (781,1226)--(797,1233) (786,1233)--(793,1233) (786,1233)--(786,1238);
\draw[dsh,rounded corners=5pt,ar] (bth1)--(771,1227.7)--(771,1276.3)--(bctl.east |- 0,1276.3);
% fan
\draw[sym] (835,1061.7) .. controls (830.5,1054) and (832,1047.5) .. (835,1047.5) .. controls (838,1047.5) and (839.5,1054) .. (835,1061.7) .. controls (830.5,1069) and (832,1075.8) .. (835,1075.8) .. controls (838,1075.8) and (839.5,1069) .. (835,1061.7) -- cycle;
\node[mot,minimum size=16pt] (bfan) at (851.3,1061) {};
\draw[w] (835,1061.5)--(bfan);
\draw[w] (848.7,1068)--(848.7,1074.3)--(872.7,1074.3);
\draw[w] (855,1068)--(855,1074.3);
\draw[sym] (872.7,1074.3)--(872.7,1082) (869.5,1082)--(872.7,1076)--(875.9,1082);
% control to cpu
\draw[w,arr] (bctl.south -| 704,0)--(bcpu.north -| 704,0);
\draw[rc] (bctl.south -| 680,0)--(680,1316)--(610,1316)--(610,1455);
\draw[rc,ar] (610,1335)--(610,1352)--(bcpu.west |- 0,1352);
\draw[rc,ar] (610,1440)--(610,1459.3)--(bcpb.west |- 0,1459.3);
\draw[rc,ar] (bcpu.west |- 0,1415)--(600.7,1415)--(600.7,1519.5)--(bmem.east |- 0,1519.5);
\draw[rc,ar] (bcpb.west |- 0,1508)--(536.7,1508)--(536.7,1462.7)--(bdisp.east |- 0,1462.7);
\draw[w,ar] (bmem.south -| 488.3,0)--(bp1.north -| 488.3,0);
\draw[rc,arr] (bp2.north -| 578,0)--(578,1531)--(bcpb.west |- 0,1531);
% right side
\draw[rc,ar] (bcpu.east |- 0,1382.3)--(843.3,1382.3)--(843.3,1405.3)--(bcn1.west |- 0,1405.3);
\draw[rc,ar] (bcn1.west |- 0,1434.7)--(811.7,1434.7)--(811.7,1409.3)--(bcpu.east |- 0,1409.3);
\draw[w,ar] (bcn1.west |- 0,1459.3)--(bi1.east |- 0,1459.3);
\draw[w,ar] (bi1.west |- 0,1459.3)--(bcpb.east |- 0,1459.3);
\draw[w,arr] (bi2.east |- 0,1516.7)--(bcn1.west |- 0,1516.7);
\draw[w,{Latex[length=5pt,width=5pt]}-{Latex[length=9pt,width=8.5pt]}] (bi2.west |- 0,1516.7)--(816,1516.7) .. controls (811,1516.7) and (815,1524) .. (809,1524)--(bcpb.east |- 0,1524);
% low voltage supply
\draw[w] (bj35)--(bL4)--(bj37)--(brec.west |- bj37);
\draw[w] (bj36)--(bL5)--(bj38)--(brec.west |- bj38);
\draw[w] (bj37)--(262,1351) (bj38)--(262,1357.7);
\myZ{262}{1354.3}{8}
\draw[w] (brec.east |- bj39)--(bj39)--(bpsu.west |- bj39);
\draw[w] (brec.east |- bj40)--(bj40)--(bpsu.west |- bj40);
\draw[w] (bj39)--(428,1354) (bj40)--(428,1358.7);
\myCap{428}{1354}{1358.7}{5.5}
\draw[w,arb] (bpsu.east |- 0,1339.3)--(541,1339.3);
\draw[w,arb] (bpsu.east |- 0,1354.7)--(541,1354.7);
\draw[w,arb] (bpsu.east |- 0,1387.3)--(541,1387.3);
\draw[w,arb] (bpsu.east |- 0,1403.7)--(541,1403.7);
% emergency stop
\draw[w] (201,1474.3)--(213.3,1468.7)--(bj41)--(237.3,1468.7)--(250,1462.3);
\draw[w,densely dashed] (206.7,1458)--(206.7,1472);
\draw[sym] (203.3,1460.5)--(203.3,1456.7)--(210,1456.7)--(210,1460.5);
\draw[w,densely dashed] (243.3,1455)--(243.3,1466);
\draw[sym] (240,1458)--(240,1454)--(246.7,1454)--(246.7,1458);
\draw[w] (249.3,1468.7)--(bj42)--(282.3,1468.7)--(295,1462.3);
\draw[w] (294.3,1468.7)--(bj43)--(bmc)--(bj44);
\draw[w] (bj41)--(224.3,1488.3)--(235.7,1488.3)--(247.7,1482.3);
\fill[ink] (249.3,1487.5) circle (1.2pt);
\draw[w] (249.3,1488.3)--(267.7,1488.3)--(bj42);
\draw[w] (bj43)--(307.7,1486.5)--(bsur.west |- 0,1486.5);
\draw[w] (bj44)--(330.7,1486.5)--(bsur.east |- 0,1486.5);
\begin{pgfonlayer}{fg}
\fill[ink] (320.7,1483.3) rectangle (325,1489.7);
\myDig{432.3}{1440.3}{504.7}{1463.7}
\myBtn{439.3}{1472.7}\myBtn{458.7}{1472.7}\myBtn{478}{1472.7}\myBtn{497.3}{1472.7}
\foreach \yy in {1139.3,1161.7,1184.3,1207}{\node[tmb] at (928.7,\yy) {};}
\end{pgfonlayer}
% LED lower
\draw[w] (537.3,1429)--(bj45)--(553.3,1429);
\draw[w] (bj45)--(546,1442.3)--(571.3,1442.3)--(571.3,1449);
\myLED{571.3}{1457.3}{9.3}
\draw[w] (571.3,1466)--(571.3,1471.7);
\draw[sym] (565.3,1471.7)--(577.3,1471.7)--(571.3,1478.3)--cycle;
\end{tikzpicture}
\end{document}
